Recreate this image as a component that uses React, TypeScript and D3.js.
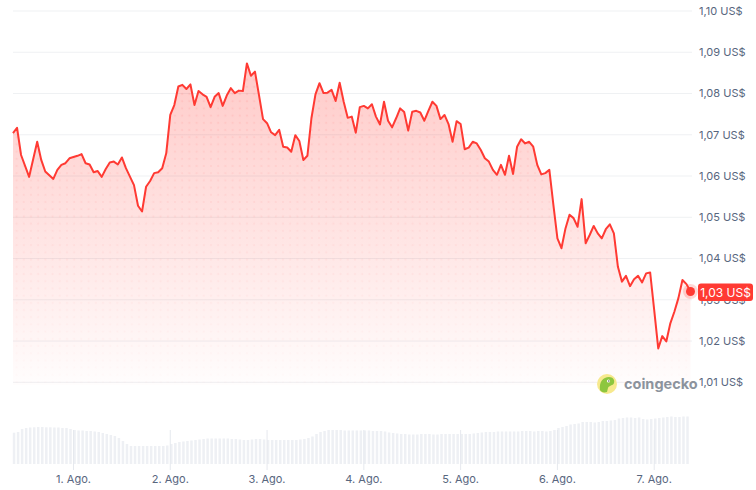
import * as d3 from 'd3';
import React from 'react';

// hours after 31 Jul 09:00 for each price reading
const hours: number[] = [
  0, 1, 2, 4, 6, 7, 8, 10, 11, 12, 13, 14, 16, 17, 18, 19, 20, 21, 22, 23,
  24, 25, 26, 27, 28, 30, 31, 32, 33, 34, 35, 36, 37, 38, 39, 40, 41, 42, 43, 44,
  45, 46, 47, 48, 49, 50, 51, 52, 53, 54, 55, 56, 57, 58, 59, 60, 61, 62, 63, 64,
  65, 66, 67, 68, 69, 70, 71, 72, 73, 74, 75, 76, 77, 78, 79, 80, 81, 82, 83, 84,
  85, 86, 87, 88, 89, 90, 91, 92, 93, 94, 95, 96, 97, 98, 99, 100, 101, 102, 103, 104,
  105, 106, 107, 108, 109, 110, 111, 112, 113, 114, 115, 116, 117, 118, 119, 120, 121, 122, 123, 124,
  125, 126, 127, 128, 129, 130, 131, 132, 133, 134, 135, 136, 137, 138, 139, 140, 141, 142, 143, 144,
  145, 146, 147, 148, 149, 150, 151, 152, 153, 154, 155, 156, 157, 158, 159, 160, 161, 162, 163, 164,
  165, 166, 167, 168,
];

const prices: number[] = [
  1.0704, 1.0717, 1.0651, 1.0598, 1.0683, 1.0639, 1.0611, 1.0593, 1.0615, 1.0627,
  1.0631, 1.0643, 1.0649, 1.0653, 1.0631, 1.0628, 1.0609, 1.0612, 1.0598, 1.0617,
  1.0633, 1.0635, 1.0628, 1.0645, 1.0619, 1.0578, 1.0528, 1.0514, 1.0574, 1.0588,
  1.0607, 1.0609, 1.0619, 1.0655, 1.0748, 1.0772, 1.0817, 1.0821, 1.0811, 1.0822,
  1.0772, 1.0806, 1.0798, 1.0792, 1.0767, 1.0792, 1.0801, 1.077, 1.0795, 1.0813,
  1.0801, 1.0807, 1.0806, 1.0873, 1.0843, 1.0853, 1.0796, 1.0738, 1.0728, 1.0706,
  1.0699, 1.0712, 1.0671, 1.0669, 1.0659, 1.0699, 1.0685, 1.0639, 1.0649, 1.074,
  1.0798, 1.0825, 1.0801, 1.0802, 1.0809, 1.0782, 1.0826, 1.078, 1.0741, 1.0744,
  1.0705, 1.0767, 1.077, 1.0764, 1.0774, 1.0744, 1.0725, 1.078, 1.0734, 1.0718,
  1.074, 1.0764, 1.0755, 1.071, 1.0756, 1.0758, 1.0754, 1.0734, 1.0758, 1.078,
  1.077, 1.0738, 1.0748, 1.0726, 1.0683, 1.0733, 1.0726, 1.0665, 1.0669, 1.0683,
  1.0679, 1.0663, 1.0643, 1.0635, 1.0615, 1.0603, 1.0627, 1.0603, 1.0649, 1.0605,
  1.0671, 1.0689, 1.0679, 1.0683, 1.0671, 1.0627, 1.0604, 1.0607, 1.0615, 1.053,
  1.0449, 1.0425, 1.0473, 1.0506, 1.0498, 1.0477, 1.0544, 1.0437, 1.0457, 1.0479,
  1.0461, 1.0449, 1.0471, 1.0483, 1.0461, 1.038, 1.0344, 1.0358, 1.0333, 1.035,
  1.0358, 1.0342, 1.0364, 1.0366, 1.0275, 1.0182, 1.0212, 1.0199, 1.0243, 1.0271,
  1.0304, 1.0348, 1.0338, 1.032,
];

// hourly volume (relative units)
const volumes: number[] = [
  31.3, 32, 35, 36, 36.5, 36.7, 37, 37, 36.7, 36.7, 36.5, 36.5, 36, 36,
  35, 34, 33.5, 33.5, 33, 33, 32.5, 32, 31, 30, 29, 28, 26, 23, 20, 18,
  18, 18, 18, 18, 18, 18, 18, 18, 18.5, 20, 21, 22, 22.5, 23, 23.5, 24, 24.5,
  25, 25.5, 25.5, 25.5, 25.5, 25.5, 25.5, 25, 25, 24.5, 24, 24, 24.5, 25, 25, 24.5, 24,
  24, 24, 24, 24, 24, 24, 24, 24.5, 25, 26, 27.5, 30, 32,
  33, 34, 34, 34, 34, 33.5, 33.5, 33.5, 33.5, 33.5, 33.5, 33.5, 33, 33, 33, 32.5,
  31.5, 31, 30.5, 30, 30, 29.5, 29.5, 29.5, 30, 30, 30, 29.5, 29.5, 30, 30, 30, 30, 30,
  30, 30, 30, 30.5, 31, 31.5, 32, 32, 32, 32.5, 32.5, 32.5, 32.5, 32.5, 32.5, 33, 33, 33, 32.5, 33,
  33, 32.5, 33, 34, 36, 37, 38, 39.5, 40, 40.5, 42, 42, 42,
  41.5, 42, 43, 43, 43.5, 44, 45.5, 46, 46.5, 46.5, 46, 46.5,
  45, 44.5, 45, 45.5, 46, 46.5, 47, 47.5, 47, 47, 47.5, 47.5,
];

const dayLabels: string[] = ['1. Ago.', '2. Ago.', '3. Ago.', '4. Ago.', '5. Ago.', '6. Ago.', '7. Ago.'];
const priceTicks: number[] = [1.01, 1.02, 1.03, 1.04, 1.05, 1.06, 1.07, 1.08, 1.09, 1.1];

const startTime = new Date(2024, 6, 31, 9);
const endTime = new Date(2024, 7, 7, 9);
const HOUR = 3600 * 1000;

const WIDTH = 756;
const HEIGHT = 490;
const RED = '#ff3a33';
const GREY = '#58667e';
const FONT = 'Inter, "Noto Sans", sans-serif';

const fmt = (v: number) => `${v.toFixed(2).replace('.', ',')} US$`;

export default function App() {
  const x = d3.scaleTime().domain([startTime, endTime]).range([13, 690.5]);
  const y = d3.scaleLinear().domain([1.01, 1.1]).range([382.3, 11]);
  const vol = d3.scaleLinear().domain([0, d3.max(volumes) ?? 1]).range([464, 416.5]);

  const points: [Date, number][] = prices.map((p, i) => [
    new Date(startTime.getTime() + hours[i] * HOUR),
    p,
  ]);

  const line = d3
    .line<[Date, number]>()
    .x((d) => x(d[0]))
    .y((d) => y(d[1]));
  const area = d3
    .area<[Date, number]>()
    .x((d) => x(d[0]))
    .y0(385)
    .y1((d) => y(d[1]));

  const barW = (x(new Date(startTime.getTime() + HOUR)) - x(startTime)) * 0.62;
  const days = dayLabels.map((_, i) => new Date(2024, 7, i + 1));

  const last = points[points.length - 1];
  const lx = x(last[0]);
  const ly = y(last[1]);

  return (
    <svg
      width={WIDTH}
      height={HEIGHT}
      style={{ position: 'absolute', left: 0, top: 0, background: '#fff' }}
      fontFamily={FONT}
    >
      <defs>
        <linearGradient id="fillGrad" gradientUnits="userSpaceOnUse" x1="0" y1="60" x2="0" y2="385">
          <stop offset="0" stopColor={RED} stopOpacity={0.27} />
          <stop offset="0.6" stopColor={RED} stopOpacity={0.12} />
          <stop offset="1" stopColor={RED} stopOpacity={0.01} />
        </linearGradient>
        <linearGradient id="maskGrad" gradientUnits="userSpaceOnUse" x1="0" y1="60" x2="0" y2="385">
          <stop offset="0" stopColor="#fff" stopOpacity={1} />
          <stop offset="1" stopColor="#fff" stopOpacity={0.15} />
        </linearGradient>
        <mask id="dotMask">
          <rect x={0} y={0} width={WIDTH} height={HEIGHT} fill="url(#maskGrad)" />
        </mask>
        <pattern id="dots" patternUnits="userSpaceOnUse" width={7.2} height={7.2} x={13} y={4}>
          <circle cx={3.6} cy={3.6} r={1.1} fill={RED} fillOpacity={0.09} />
        </pattern>
      </defs>

      {/* grid */}
      {priceTicks.map((t) => (
        <line key={t} x1={13} x2={692} y1={y(t)} y2={y(t)} stroke="#eff1f3" strokeWidth={1} />
      ))}

      {/* price area + line */}
      <path d={area(points) ?? ''} fill="url(#fillGrad)" />
      <path d={area(points) ?? ''} fill="url(#dots)" mask="url(#dotMask)" />
      <path d={line(points) ?? ''} fill="none" stroke={RED} strokeWidth={2} strokeLinejoin="round" />

      {/* y labels */}
      {priceTicks.map((t) => (
        <text key={t} x={699} y={y(t)} dy="0.35em" fontSize={11} fill={GREY}>
          {fmt(t)}
        </text>
      ))}

      {/* last price */}
      <circle cx={lx} cy={ly} r={7.5} fill={RED} fillOpacity={0.2} />
      <circle cx={lx} cy={ly} r={4.5} fill={RED} />
      <rect x={698} y={283.5} width={55} height={17.5} rx={3} fill={RED} />
      <text x={725.5} y={292.5} dy="0.35em" textAnchor="middle" fontSize={12} fill="#fff">
        {fmt(last[1])}
      </text>

      {/* coingecko mark */}
      <g transform="translate(607,384)">
        <circle r={10} fill="#f7e98e" />
        <path d="M-7,6 C-8,-2 -4,-7 2,-7 C6,-7 8,-4 7,-1 C6,2 2,1 1,4 L0,8 C-3,9 -6,8 -7,6 Z" fill="#8dc63f" />
        <circle cx={1.5} cy={-3} r={1.6} fill="#fff" />
        <circle cx={1.8} cy={-3} r={0.8} fill="#58595b" />
      </g>
      <text x={624} y={389} fontSize={14.5} fontWeight={700} fill="#8c939d">
        coingecko
      </text>

      {/* volume */}
      {volumes.map((v, i) => {
        const t = new Date(startTime.getTime() + i * HOUR);
        return (
          <rect
            key={i}
            x={x(t) - 0.2}
            y={vol(v)}
            width={barW}
            height={464 - vol(v)}
            fill="#eef0f4"
          />
        );
      })}

      {/* x axis */}
      {days.map((d, i) => (
        <g key={i} transform={`translate(${x(d)},0)`}>
          <line y1={430} y2={470} stroke="#e6e9ee" strokeWidth={1} />
          <text y={483} textAnchor="middle" fontSize={11} fill={GREY}>
            {dayLabels[i]}
          </text>
        </g>
      ))}
    </svg>
  );
}
